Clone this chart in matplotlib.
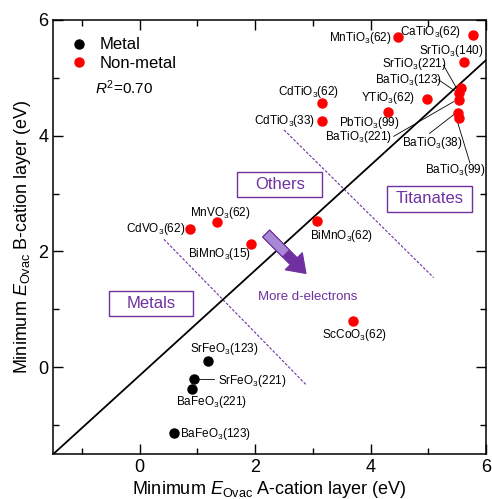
import matplotlib
matplotlib.use('Agg')
import matplotlib.pyplot as plt
from matplotlib.patches import FancyArrow, Rectangle, Polygon
import numpy as np

plt.rcParams['font.family'] = ['Liberation Sans', 'DejaVu Sans']
plt.rcParams['mathtext.fontset'] = 'custom'
plt.rcParams['mathtext.rm'] = 'Liberation Sans'
plt.rcParams['mathtext.it'] = 'Liberation Sans:italic'

PURPLE = '#7030A0'

# metals (black)
metal_names = ['SrFeO$_3$(123)', 'SrFeO$_3$(221)', 'BaFeO$_3$(221)', 'BaFeO$_3$(123)']
metal_x = [1.18, 0.94, 0.91, 0.59]
metal_y = [0.11, -0.21, -0.38, -1.13]

# non-metals (red)
nonmetal_names = ['MnTiO$_3$(62)', 'CaTiO$_3$(62)', 'SrTiO$_3$(140)', 'SrTiO$_3$(221)',
                  'BaTiO$_3$(123)', 'BaTiO$_3$(221)', 'BaTiO$_3$(38)', 'BaTiO$_3$(99)',
                  'YTiO$_3$(62)', 'PbTiO$_3$(99)', 'CdTiO$_3$(62)', 'CdTiO$_3$(33)',
                  'BiMnO$_3$(62)', 'CdVO$_3$(62)', 'MnVO$_3$(62)', 'BiMnO$_3$(15)',
                  'ScCoO$_3$(62)']
nonmetal_x = [4.47, 5.78, 5.61, 5.57, 5.53, 5.53, 5.52, 5.53,
              4.97, 4.30, 3.16, 3.16, 3.07, 0.87, 1.33, 1.93, 3.69]
nonmetal_y = [5.71, 5.74, 5.27, 4.82, 4.74, 4.62, 4.40, 4.31,
              4.64, 4.41, 4.56, 4.25, 2.52, 2.39, 2.51, 2.13, 0.80]

# linear fit
fit_slope = 0.908
fit_intercept = -0.14
r2 = 0.70

fig = plt.figure(figsize=(4.92, 4.99), dpi=100)
ax = fig.add_axes([0.108, 0.090, 0.880, 0.870])

xs = np.array([-1.5, 6.0])
ax.plot(xs, fit_intercept + fit_slope * xs, color='black', lw=1.3, zorder=2)

# dashed separators
ax.plot([0.42, 2.89], [2.21, -0.31], color=PURPLE, lw=0.8, ls=(0, (2.5, 1.5)), zorder=1)
ax.plot([2.50, 5.09], [4.10, 1.55], color=PURPLE, lw=0.8, ls=(0, (2.5, 1.5)), zorder=1)

ax.plot(metal_x, metal_y, 'o', color='black', ms=6.5, label='Metal', zorder=4)
ax.plot(nonmetal_x, nonmetal_y, 'o', color='red', ms=6.5, label='Non-metal', zorder=4)

# point labels: (text, x, y, ha)
labels = [
    ('MnTiO$_3$(62)', 4.36, 5.69, 'right'),
    ('CaTiO$_3$(62)', 5.57, 5.79, 'right'),
    ('SrTiO$_3$(140)', 5.40, 5.47, 'center'),
    ('SrTiO$_3$(221)', 4.76, 5.24, 'center'),
    ('BaTiO$_3$(123)', 4.65, 4.97, 'center'),
    ('YTiO$_3$(62)', 4.76, 4.66, 'right'),
    ('PbTiO$_3$(99)', 3.97, 4.22, 'center'),
    ('BaTiO$_3$(221)', 3.79, 3.97, 'center'),
    ('BaTiO$_3$(38)', 5.06, 3.88, 'center'),
    ('BaTiO$_3$(99)', 5.47, 3.41, 'center'),
    ('CdTiO$_3$(62)', 2.93, 4.76, 'center'),
    ('CdTiO$_3$(33)', 3.04, 4.26, 'right'),
    ('BiMnO$_3$(62)', 3.50, 2.26, 'center'),
    ('CdVO$_3$(62)', 0.79, 2.39, 'right'),
    ('MnVO$_3$(62)', 1.40, 2.67, 'center'),
    ('BiMnO$_3$(15)', 1.38, 1.95, 'center'),
    ('ScCoO$_3$(62)', 3.72, 0.55, 'center'),
    ('SrFeO$_3$(123)', 1.46, 0.31, 'center'),
    ('SrFeO$_3$(221)', 1.36, -0.24, 'left'),
    ('BaFeO$_3$(221)', 1.24, -0.60, 'center'),
    ('BaFeO$_3$(123)', 0.69, -1.16, 'left'),
]
for txt, x, y, ha in labels:
    ax.text(x, y, txt, ha=ha, va='center', fontsize=8.5, zorder=5)

# leader lines
leaders = [
    ([5.26, 5.49], [5.22, 4.82]),
    ([5.17, 5.45], [4.97, 4.78]),
    ([4.40, 5.44], [3.99, 4.59]),
    ([5.02, 5.46], [4.04, 4.38]),
    ([5.51, 5.72], [4.22, 3.53]),
    ([1.02, 1.29], [-0.21, -0.21]),
]
for lx, ly in leaders:
    ax.plot(lx, ly, color='black', lw=0.6, zorder=3)

# region boxes
boxes = [('Others', 1.69, 2.95, 3.16, 3.38),
         ('Titanates', 4.28, 2.69, 5.76, 3.14),
         ('Metals', -0.53, 0.88, 0.93, 1.32)]
for name, x0, y0, x1, y1 in boxes:
    ax.add_patch(Rectangle((x0, y0), x1 - x0, y1 - y0, fc='white', ec=PURPLE, lw=1.0, zorder=3))
    ax.text((x0 + x1) / 2, (y0 + y1) / 2, name, ha='center', va='center',
            fontsize=12, color=PURPLE, zorder=4)

# arrow "More d-electrons"
tail = np.array([2.19, 2.31])
tip = np.array([2.88, 1.62])
d = tip - tail
ax.add_patch(FancyArrow(tail[0], tail[1], d[0], d[1], width=0.17, head_width=0.42,
                        head_length=0.3, length_includes_head=True,
                        fc=PURPLE, ec=PURPLE, lw=0.8, zorder=3))
u = d / np.hypot(*d)
n = np.array([-u[1], u[0]]) * 0.085
mid = tail + d * 0.5
ax.add_patch(Polygon([tail + n, mid + n, mid - n, tail - n], closed=True,
                     fc='#a888d4', ec=PURPLE, lw=0.8, zorder=3.5))
ax.text(2.91, 1.22, 'More d-electrons', ha='center', va='center', fontsize=9.5,
        color=PURPLE, zorder=5)

ax.text(-0.78, 4.83, '$R^2$=0.70', ha='left', va='center', fontsize=11)
ax.legend(loc='upper left', frameon=False, fontsize=12, handletextpad=0.75,
          labelspacing=0.22, borderaxespad=0.65, handlelength=1.0)

ax.set_xlim(-1.5, 6)
ax.set_ylim(-1.5, 6)
ax.set_xticks([0, 2, 4, 6])
ax.set_yticks([0, 2, 4, 6])
ax.set_xticks([-1, 1, 3, 5], minor=True)
ax.set_yticks([-1, 1, 3, 5], minor=True)
ax.tick_params(which='both', direction='in', top=True, right=True, labelsize=13)
ax.tick_params(which='major', length=7, width=1)
ax.tick_params(which='minor', length=4, width=1)
for s in ax.spines.values():
    s.set_linewidth(1.1)

ax.set_xlabel('Minimum $E_{\\mathrm{Ovac}}$ A-cation layer (eV)', fontsize=13, labelpad=2)
ax.set_ylabel('Minimum $E_{\\mathrm{Ovac}}$ B-cation layer (eV)', fontsize=13, labelpad=4)

fig.savefig('out.png', dpi=100)
